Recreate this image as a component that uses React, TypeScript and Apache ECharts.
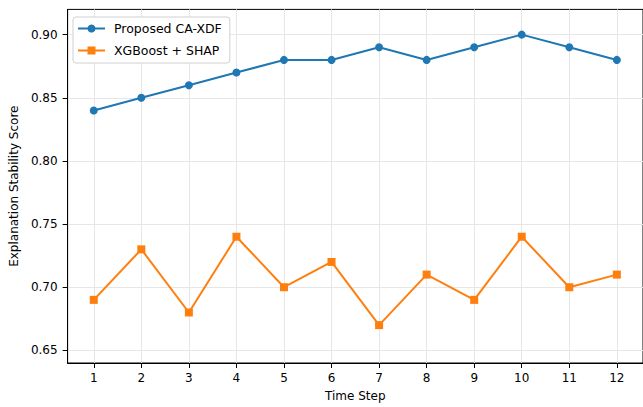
import React, { useEffect, useRef } from "react";
import * as echarts from "echarts";

const timeSteps = [1, 2, 3, 4, 5, 6, 7, 8, 9, 10, 11, 12];
const proposed = [0.84, 0.85, 0.86, 0.87, 0.88, 0.88, 0.89, 0.88, 0.89, 0.9, 0.89, 0.88];
const xgboost = [0.69, 0.73, 0.68, 0.74, 0.7, 0.72, 0.67, 0.71, 0.69, 0.74, 0.7, 0.71];
const yTicks = [0.65, 0.7, 0.75, 0.8, 0.85, 0.9];

const FONT = "DejaVu Sans";

export default function App() {
  const ref = useRef<HTMLDivElement>(null);
  useEffect(() => {
    if (!ref.current) return;
    const chart = echarts.init(ref.current, undefined, { renderer: "svg" });
    chart.setOption({
      animation: false,
      backgroundColor: "#ffffff",
      textStyle: { fontFamily: FONT },
      grid: {
        left: 66.5,
        top: 9.4,
        width: 581.2,
        height: 357.6,
        show: true,
        borderColor: "#000",
        borderWidth: 1,
        backgroundColor: "transparent",
      },
      legend: {
        orient: "vertical",
        left: 73,
        top: 17,
        padding: [5, 8, 6, 4],
        itemWidth: 27,
        itemHeight: 10,
        itemGap: 9,
        backgroundColor: "#fff",
        borderColor: "#d0d0d0",
        borderWidth: 1,
        borderRadius: 3,
        textStyle: { fontFamily: FONT, fontSize: 12.5, color: "#000", padding: [0, 0, 0, 4] },
        data: ["Proposed CA-XDF", "XGBoost + SHAP"],
      },
      xAxis: {
        type: "value",
        min: 0.45,
        max: 12.55,
        name: "Time Step",
        nameLocation: "middle",
        nameGap: 27,
        nameTextStyle: { fontFamily: FONT, fontSize: 12, color: "#000" },
        axisLine: { show: true, lineStyle: { color: "#000", width: 1 } },
        axisTick: { show: true, length: 5, lineStyle: { color: "#000" }, customValues: timeSteps },
        axisLabel: { customValues: timeSteps, color: "#000", fontSize: 12, fontFamily: FONT, margin: 9 },
        splitLine: { show: true, lineStyle: { color: "#e6e6e6", width: 1 }, customValues: timeSteps },
      },
      yAxis: {
        type: "value",
        min: 0.64,
        max: 0.92,
        name: "Explanation Stability Score",
        nameLocation: "middle",
        nameGap: 47,
        nameTextStyle: { fontFamily: FONT, fontSize: 12, color: "#000" },
        axisLine: { show: true, lineStyle: { color: "#000", width: 1 } },
        axisTick: { show: true, length: 5, lineStyle: { color: "#000" }, customValues: yTicks },
        axisLabel: {
          customValues: yTicks,
          color: "#000",
          fontSize: 12,
          fontFamily: FONT,
          margin: 10,
          formatter: (v: number) => v.toFixed(2),
        },
        splitLine: { show: true, lineStyle: { color: "#e6e6e6", width: 1 }, customValues: yTicks },
      },
      series: [
        {
          name: "Proposed CA-XDF",
          type: "line",
          data: timeSteps.map((t, i) => [t, proposed[i]]),
          symbol: "circle",
          symbolSize: 8,
          color: "#1f77b4",
          lineStyle: { width: 2, color: "#1f77b4" },
          itemStyle: { color: "#1f77b4" },
        },
        {
          name: "XGBoost + SHAP",
          type: "line",
          data: timeSteps.map((t, i) => [t, xgboost[i]]),
          symbol: "rect",
          symbolSize: 8,
          color: "#ff7f0e",
          lineStyle: { width: 2, color: "#ff7f0e" },
          itemStyle: { color: "#ff7f0e" },
        },
      ],
    });
    return () => chart.dispose();
  }, []);
  return (
    <div
      ref={ref}
      style={{ position: "fixed", left: 0, top: 0, width: 643, height: 407, background: "#fff" }}
    />
  );
}
